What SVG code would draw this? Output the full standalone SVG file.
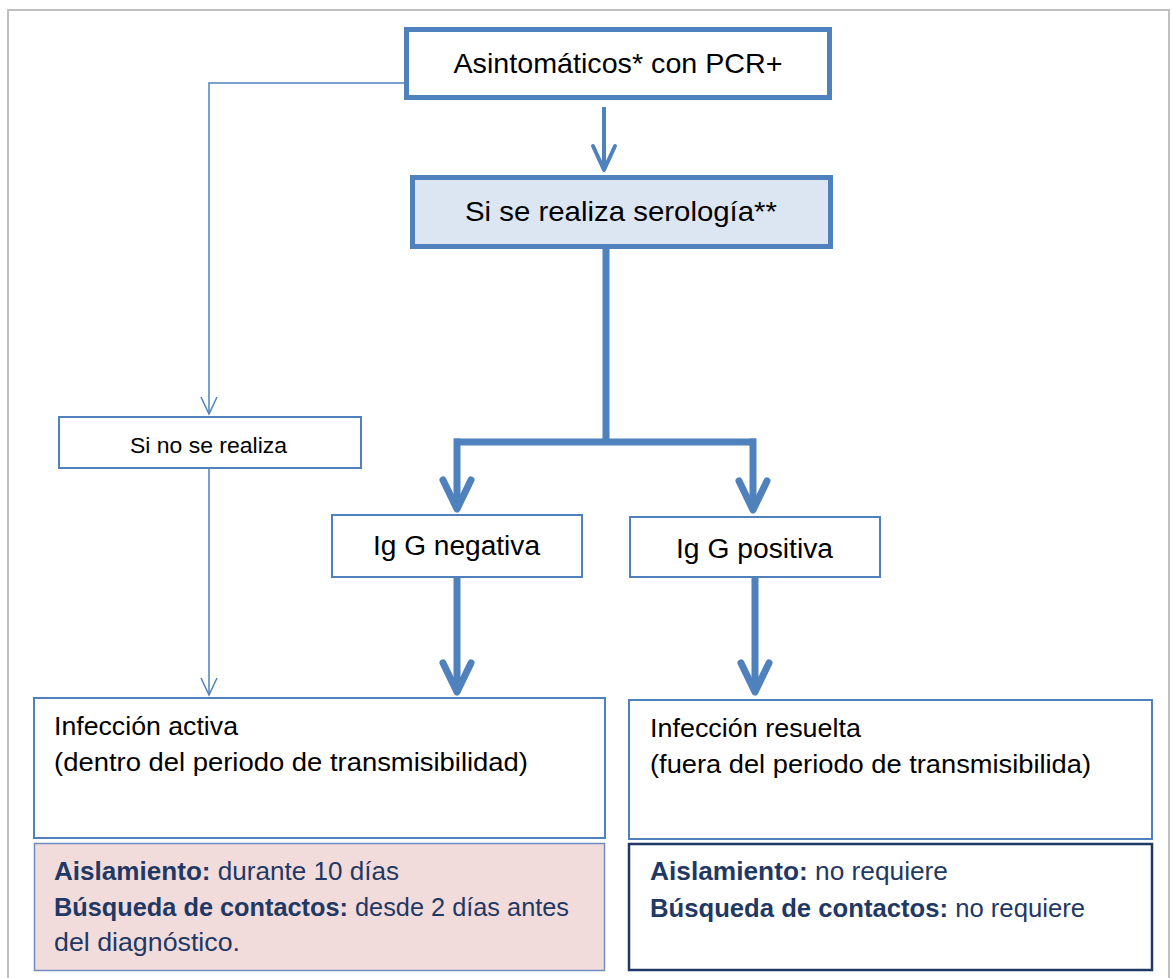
<svg xmlns="http://www.w3.org/2000/svg" width="1172" height="978" viewBox="0 0 1172 978">
<style>
.t{font-family:"Liberation Sans",Arial,sans-serif;fill:#000}
.nv{font-family:"Liberation Sans",Arial,sans-serif;fill:#1F3864}
.b{font-weight:bold}
.thick{fill:none;stroke:#4F81BD;stroke-width:7}
.med{fill:none;stroke:#4F81BD;stroke-width:4}
.thin{fill:none;stroke:#4F81BD;stroke-width:1.5}
.bx{fill:#fff;stroke:#4F81BD;stroke-width:2}
</style>
<defs>
<marker id="chevT" markerUnits="userSpaceOnUse" viewBox="-40 -20 50 40" markerWidth="50" markerHeight="40" refX="0" refY="0" orient="auto" overflow="visible">
<path d="M-29,-14 L0,0 L-29,14" fill="none" stroke="#4F81BD" stroke-width="7" stroke-linecap="round" stroke-linejoin="round"/>
</marker>
<marker id="chevM" markerUnits="userSpaceOnUse" viewBox="-30 -16 40 32" markerWidth="40" markerHeight="32" refX="0" refY="0" orient="auto" overflow="visible">
<path d="M-24,-11 L0,0 L-24,11" fill="none" stroke="#4F81BD" stroke-width="4" stroke-linecap="round" stroke-linejoin="round"/>
</marker>
<marker id="vThin" markerUnits="userSpaceOnUse" viewBox="-20 -10 25 20" markerWidth="25" markerHeight="20" refX="0" refY="0" orient="auto" overflow="visible">
<path d="M-17,-8 L0,0 L-17,8" fill="none" stroke="#4F81BD" stroke-width="1.5"/>
</marker>
</defs>
<rect x="8" y="10" width="1161" height="990" fill="#fff" stroke="#BFBFBF" stroke-width="2"/>

<g id="connectors">
<path class="thin" d="M406,83 H209 V414" marker-end="url(#vThin)"/>
<path class="thin" d="M209,468 V695" marker-end="url(#vThin)"/>
<path class="med" d="M604,107 V170" marker-end="url(#chevM)"/>
<path class="thick" d="M606,249 V442"/>
<path class="thick" d="M454,442 H756"/>
<path class="thick" d="M457,438.5 V509" marker-end="url(#chevT)"/>
<path class="thick" d="M753,438.5 V510" marker-end="url(#chevT)"/>
<path class="thick" d="M457,577 V692" marker-end="url(#chevT)"/>
<path class="thick" d="M755,577 V692" marker-end="url(#chevT)"/>
</g>

<g id="n-asintomaticos">
<rect x="406.5" y="29.5" width="423" height="68" fill="#fff" stroke="#4F81BD" stroke-width="5"/>
<text class="t" x="618" y="73" font-size="28" text-anchor="middle" textLength="329" lengthAdjust="spacingAndGlyphs">Asintomáticos* con PCR+</text>
</g>

<g id="n-serologia">
<rect x="412.5" y="177.5" width="418" height="69" fill="#DCE6F2" stroke="#4F81BD" stroke-width="5"/>
<text class="t" x="621" y="221" font-size="28" text-anchor="middle" textLength="312" lengthAdjust="spacingAndGlyphs">Si se realiza serología**</text>
</g>

<g id="n-no-realiza">
<rect class="bx" x="59" y="417" width="302" height="51"/>
<text class="t" x="208.5" y="453" font-size="22" text-anchor="middle" textLength="157" lengthAdjust="spacingAndGlyphs">Si no se realiza</text>
</g>

<g id="n-igg-neg">
<rect class="bx" x="332" y="515" width="250" height="62"/>
<text class="t" x="456.5" y="555" font-size="27" text-anchor="middle" textLength="167" lengthAdjust="spacingAndGlyphs">Ig G negativa</text>
</g>

<g id="n-igg-pos">
<rect class="bx" x="630" y="517" width="250" height="60"/>
<text class="t" x="754.5" y="558" font-size="27" text-anchor="middle" textLength="157" lengthAdjust="spacingAndGlyphs">Ig G positiva</text>
</g>

<g id="n-activa">
<rect class="bx" x="34" y="698" width="571" height="140"/>
<text class="t" x="54" y="735" font-size="26" textLength="184" lengthAdjust="spacingAndGlyphs">Infección activa</text>
<text class="t" x="54" y="771" font-size="26" textLength="474" lengthAdjust="spacingAndGlyphs">(dentro del periodo de transmisibilidad)</text>
</g>

<g id="n-activa-medidas">
<rect x="34.5" y="843.5" width="570" height="127" fill="#F2DCDB" stroke="#6F8DBF" stroke-width="1.5"/>
<text class="nv" x="54" y="880" font-size="26" textLength="345" lengthAdjust="spacingAndGlyphs"><tspan class="b">Aislamiento:</tspan> durante 10 días</text>
<text class="nv" x="54" y="916" font-size="26" textLength="515" lengthAdjust="spacingAndGlyphs"><tspan class="b">Búsqueda de contactos:</tspan> desde 2 días antes</text>
<text class="nv" x="54" y="951" font-size="26" textLength="186" lengthAdjust="spacingAndGlyphs">del diagnóstico.</text>
</g>

<g id="n-resuelta">
<rect class="bx" x="629" y="700" width="523" height="139"/>
<text class="t" x="650" y="737" font-size="26" textLength="211" lengthAdjust="spacingAndGlyphs">Infección resuelta</text>
<text class="t" x="650" y="773" font-size="26" textLength="441" lengthAdjust="spacingAndGlyphs">(fuera del periodo de transmisibilida)</text>
</g>

<g id="n-resuelta-medidas">
<rect x="629" y="844" width="523" height="126" fill="#fff" stroke="#1F3864" stroke-width="2.5"/>
<text class="nv" x="650" y="880" font-size="26" textLength="298" lengthAdjust="spacingAndGlyphs"><tspan class="b">Aislamiento:</tspan> no requiere</text>
<text class="nv" x="650" y="917" font-size="26" textLength="435" lengthAdjust="spacingAndGlyphs"><tspan class="b">Búsqueda de contactos:</tspan> no requiere</text>
</g>
</svg>
